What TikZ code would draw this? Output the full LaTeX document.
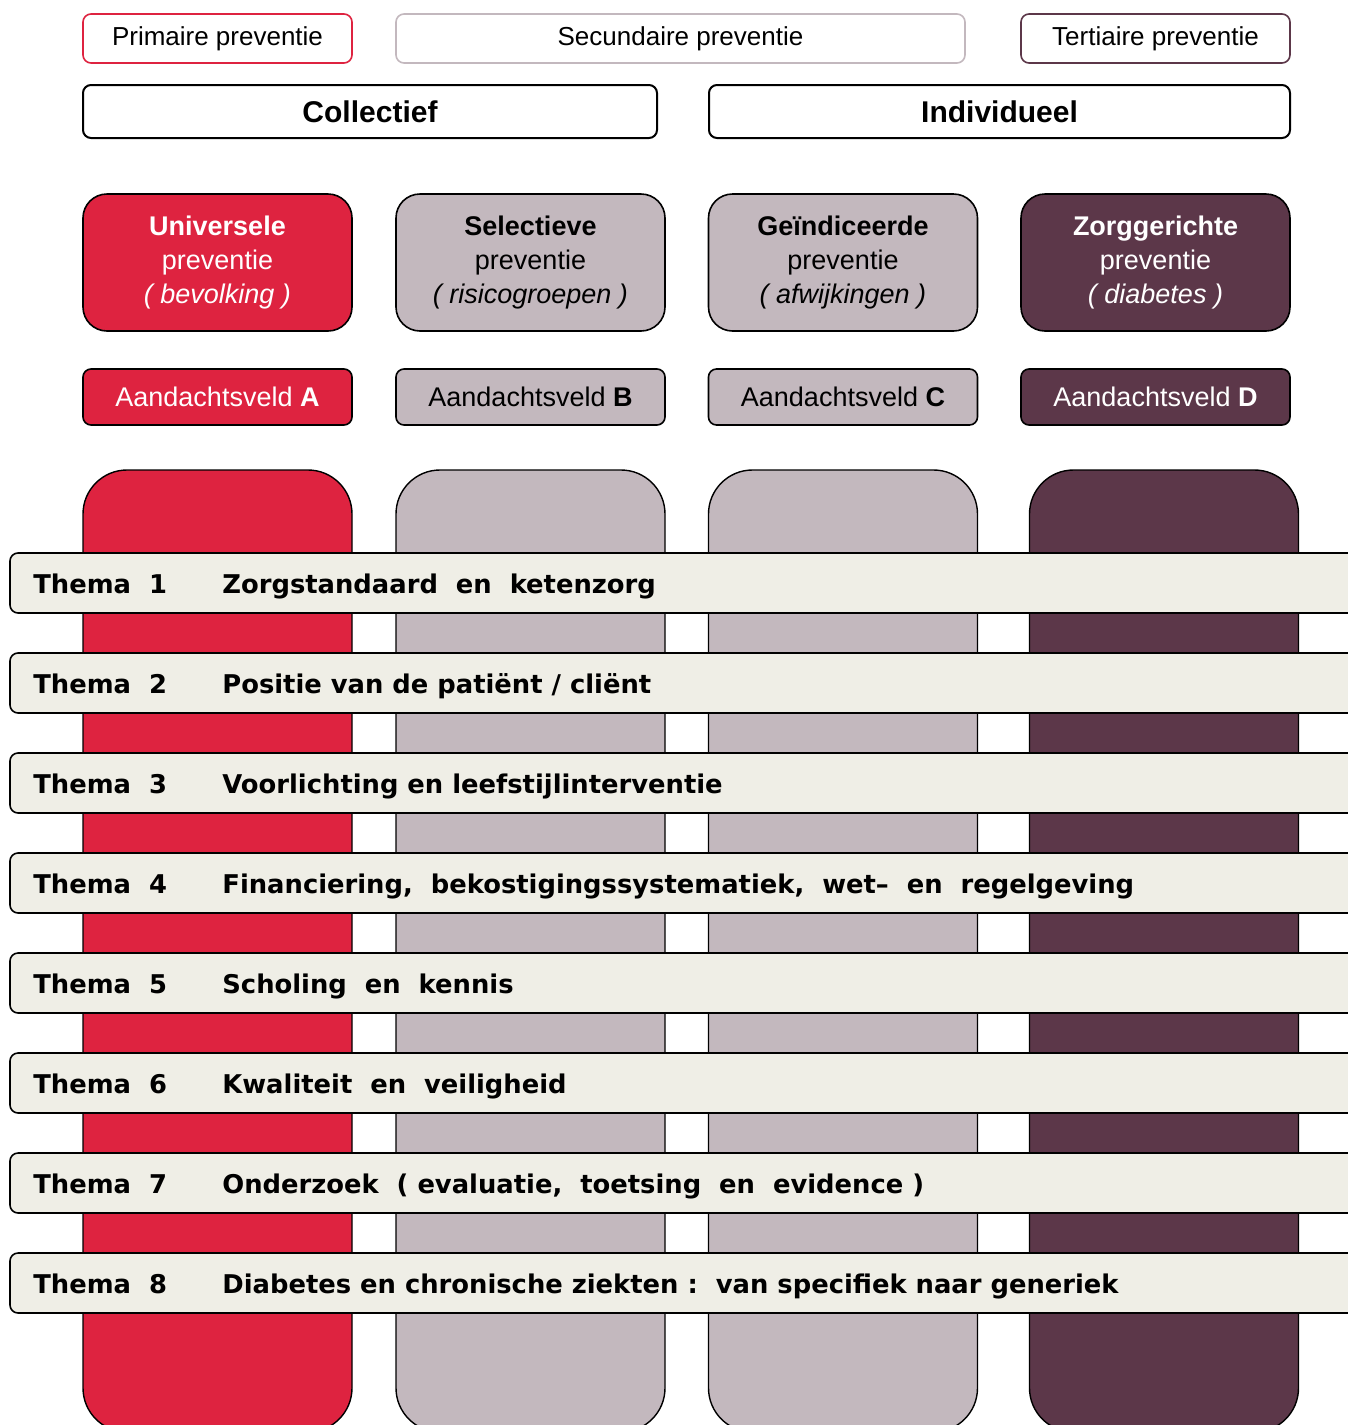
\documentclass[tikz,border=0pt]{standalone}
\usepackage{fontspec}
\setmainfont{Liberation Sans}
\newfontfamily\themafont{DejaVu Sans}
\usetikzlibrary{positioning}
\definecolor{univred}{RGB}{222,35,64}
\definecolor{selmauve}{RGB}{195,184,190}
\definecolor{zorgpurple}{RGB}{92,55,73}
\definecolor{themabg}{RGB}{239,238,230}

\begin{document}
\begin{tikzpicture}[x=0.5pt, y=-0.5pt,
  toplabel/.style={rectangle, rounded corners=4pt, draw, line width=0.8pt, fill=white, minimum height=24.5pt, font=\fontsize{13}{15}\selectfont},
  groupbox/.style={rectangle, rounded corners=4pt, draw, line width=1pt, fill=white, minimum height=26.5pt, font=\bfseries\fontsize{15}{18}\selectfont},
  catbox/.style={rectangle, rounded corners=12pt, draw, line width=0.8pt, minimum width=134.5pt, minimum height=68.5pt, align=center, font=\fontsize{13.5}{17}\selectfont},
  fieldbox/.style={rectangle, rounded corners=4pt, draw, line width=0.8pt, minimum width=134.5pt, minimum height=28pt, font=\fontsize{13.5}{16}\selectfont},
  pillar/.style={rectangle, rounded corners=22pt, draw, line width=0.7pt, minimum width=134.5pt, minimum height=481pt},
  themabar/.style={rectangle, rounded corners=4pt, draw, line width=0.8pt, fill=themabg, minimum width=680pt, minimum height=30pt},
  themalabel/.style={anchor=base west, inner sep=0pt, font=\themafont\bfseries\fontsize{12.9}{15}\selectfont}]

\useasboundingbox (0,0) rectangle (1348,1425);

% preventie
\node (primair) [toplabel, draw=univred, minimum width=134.5pt] at (217.5,38.5) {Primaire preventie};
\node (secundair) [toplabel, draw=selmauve, minimum width=284.5pt] at (680.5,38.5) {Secundaire preventie};
\node (tertiair) [toplabel, draw=zorgpurple, minimum width=134.5pt] at (1155.5,38.5) {Tertiaire preventie};
\node (collectief) [groupbox, minimum width=287pt] at (370,111.5) {Collectief};
\node (individueel) [groupbox, minimum width=290.5pt] at (999.5,111.5) {Individueel};

% soorten preventie
\node (universeel) [catbox, fill=univred, text=white] at (217.5,262.5) {\textbf{Universele}\\preventie\\\textit{( bevolking )}};
\node (selectief) [catbox, fill=selmauve] at (530.5,262.5) {\textbf{Selectieve}\\preventie\\\textit{( risicogroepen )}};
\node (geindiceerd) [catbox, fill=selmauve] at (843,262.5) {\textbf{Geïndiceerde}\\preventie\\\textit{( afwijkingen )}};
\node (zorggericht) [catbox, fill=zorgpurple, text=white] at (1155.5,262.5) {\textbf{Zorggerichte}\\preventie\\\textit{( diabetes )}};

\node (veldA) [fieldbox, fill=univred, text=white] at (217.5,397) {Aandachtsveld \textbf{A}};
\node (veldB) [fieldbox, fill=selmauve] at (530.5,397) {Aandachtsveld \textbf{B}};
\node (veldC) [fieldbox, fill=selmauve] at (843,397) {Aandachtsveld \textbf{C}};
\node (veldD) [fieldbox, fill=zorgpurple, text=white] at (1155.5,397) {Aandachtsveld \textbf{D}};

% pijlers
\foreach \n/\x/\c in {A/217.5/univred, B/530.5/selmauve, C/843/selmauve, D/1164/zorgpurple}
  \node (pijler\n) [pillar, fill=\c] at (\x,951) {};

% thema's
\foreach \i/\t in {1/{Zorgstandaard~~en~~ketenzorg},
                   2/{Positie van de patiënt / cliënt},
                   3/{Voorlichting en leefstijlinterventie},
                   4/{Financiering,~~bekostigingssystematiek,~~wet–~~en~~regelgeving},
                   5/{Scholing~~en~~kennis},
                   6/{Kwaliteit~~en~~veiligheid},
                   7/{Onderzoek~~( evaluatie,~~toetsing~~en~~evidence )},
                   8/{Diabetes en chronische ziekten :~~van specifiek naar generiek}} {
  \node (thema\i) [themabar] at (690,{583+100*(\i-1)}) {};
  \node (themanr\i) [themalabel] at (33,{593+100*(\i-1)}) {Thema~~\i};
  \node (titel\i) [themalabel] at (222,{593+100*(\i-1)}) {\t};
}
\end{tikzpicture}
\end{document}
